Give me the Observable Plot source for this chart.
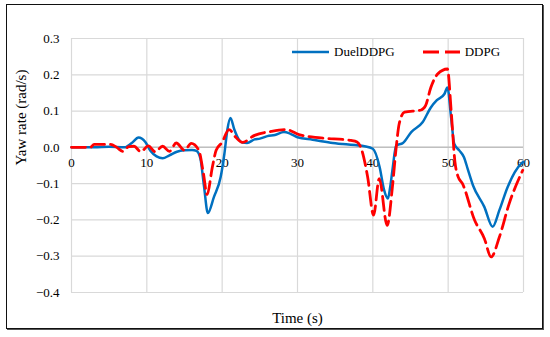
<!DOCTYPE html>
<html>
<head>
<meta charset="utf-8">
<script src="https://cdn.jsdelivr.net/npm/d3@7"></script>
<script src="https://cdn.jsdelivr.net/npm/@observablehq/plot@0.6"></script>
<style>
  body { margin: 0; background: #fff; font-family: "Liberation Serif", serif; }
  #wrap { position: relative; width: 550px; height: 337px; }
  #chart svg text { font-family: "Liberation Serif", serif; }
  #border { position: absolute; left: 6px; top: 4px; width: 535px; height: 323px; border: 1.5px solid #111; box-shadow: 1px 1px 0 #555; pointer-events: none; }
  #legend { position: absolute; top: 44px; left: 290px; font-size: 13px; color: #000; display: flex; align-items: center; }
  #legend .item { display: flex; align-items: center; }
  #legend svg { display: block; }
</style>
</head>
<body>
<div id="wrap">
  <div id="chart"></div>
  <div id="border"></div>
  <div id="legend"></div>
</div>
<script>
// Series names
const seriesNames = ["DuelDDPG", "DDPG"];
const seriesColors = ["#0070C0", "#FF0000"];

// DuelDDPG (blue)
const tDuel = [0, 3, 5, 7, 8, 8.9, 9.8, 10.5, 11.3, 12.1, 13, 14, 15, 16, 16.6, 17.1, 17.6, 18.1, 18.9, 19.8, 20.3, 20.7, 21.1, 21.6, 22.2, 22.7, 23.3, 24.3, 25, 26, 27, 28.2, 29, 30, 32, 34.4, 36, 38.9, 40, 40.9, 41.5, 42.0, 42.3, 42.6, 43.1, 44.0, 45.1, 46.6, 47.7, 48.5, 49.5, 49.9, 50.4, 50.8, 51.5, 52.1, 52.6, 53.3, 54.8, 55.9, 56.8, 57.9, 59.7, 60];
const vDuel = [0, 0, 0.002, 0, 0.012, 0.027, 0.015, -0.01, -0.025, -0.03, -0.022, -0.012, -0.008, -0.007, -0.01, -0.03, -0.109, -0.181, -0.137, -0.082, -0.017, 0.05, 0.081, 0.05, 0.022, 0.013, 0.012, 0.022, 0.024, 0.031, 0.034, 0.042, 0.038, 0.028, 0.021, 0.013, 0.009, 0.003, -0.004, -0.054, -0.118, -0.141, -0.11, -0.063, 0.005, 0.012, 0.042, 0.069, 0.11, 0.13, 0.147, 0.165, 0.08, 0.01, -0.009, -0.027, -0.06, -0.105, -0.164, -0.219, -0.173, -0.109, -0.045, -0.04];

// DDPG (red, dashed)
const tDdpg = [0, 2.5, 3, 5.2, 6.0, 6.8, 7.6, 8.3, 9.2, 10.2, 11.1, 12.1, 13.0, 13.9, 15.0, 15.9, 16.9, 17.5, 18.0, 18.7, 19.2, 20.0, 20.9, 21.8, 22.7, 24.3, 26.5, 28.5, 30.2, 33.1, 37.1, 37.9, 38.4, 39.3, 40.1, 40.85, 41.9, 42.6, 43.1, 43.5, 44.2, 46.4, 47.0, 47.7, 48.6, 49.9, 50.4, 50.9, 51.3, 51.9, 53.5, 54.8, 55.7, 56.8, 58.1, 59.9];
const vDdpg = [0, 0, 0.008, 0.008, 0.0, -0.011, 0.002, 0.003, -0.012, 0.004, -0.012, 0.003, -0.011, 0.012, -0.008, 0.011, -0.008, -0.07, -0.13, -0.054, -0.008, 0.014, 0.049, 0.028, 0.014, 0.033, 0.044, 0.049, 0.035, 0.026, 0.019, 0.015, 0.0, -0.08, -0.187, -0.086, -0.215, -0.109, 0.0, 0.065, 0.097, 0.103, 0.115, 0.165, 0.202, 0.216, 0.1, -0.04, -0.08, -0.1, -0.2, -0.251, -0.302, -0.247, -0.155, -0.063];

// Tick values
const xTicks = [0, 10, 20, 30, 40, 50, 60];
const yTicks = [0.3, 0.2, 0.1, 0.0, -0.1, -0.2, -0.3, -0.4];

const duel = tDuel.map((t, i) => ({t, v: vDuel[i]}));
const ddpg = tDdpg.map((t, i) => ({t, v: vDdpg[i]}));

const font = "Liberation Serif";
const chart = Plot.plot({
  width: 550,
  height: 337,
  marginLeft: 71,
  marginRight: 27,
  marginTop: 38,
  marginBottom: 45,
  style: { fontFamily: font, fontSize: "13px", background: "transparent", color: "#000" },
  x: { domain: [0, 60], ticks: xTicks },
  y: { domain: [-0.4, 0.3], ticks: yTicks },
  marks: [
    Plot.gridX(xTicks, { stroke: "#d9d9d9", strokeOpacity: 1, strokeWidth: 1.2 }),
    Plot.gridY(yTicks, { stroke: "#d9d9d9", strokeOpacity: 1, strokeWidth: 1.2 }),
    Plot.ruleY([0], { stroke: "#bfbfbf", strokeWidth: 1.5 }),
    Plot.axisY(yTicks, { tickSize: 0, tickPadding: 12, tickFormat: d3.format(".1f"), fontSize: 13, fontFamily: font, label: null }),
    Plot.text(xTicks, { x: d => d, y: 0, dy: 15, text: d => String(d), fontSize: 13, fontFamily: font, fill: "#000" }),
    Plot.axisX({ ticks: [], tickSize: 0, label: null }),
    Plot.line(duel, { x: "t", y: "v", stroke: seriesColors[0], strokeWidth: 2.5, curve: "monotone-x" }),
    Plot.line(ddpg, { x: "t", y: "v", stroke: seriesColors[1], strokeWidth: 2.8, strokeDasharray: "14,6", curve: "monotone-x" }),
    Plot.text(["Time (s)"], { frameAnchor: "bottom", dy: 30, fontSize: 15, fontFamily: font, fill: "#000" }),
    Plot.text(["Yaw rate (rad/s)"], { frameAnchor: "left", dx: -50, rotate: -90, fontSize: 15, fontFamily: font, fill: "#000" })
  ]
});
document.getElementById("chart").appendChild(chart);

// Legend
const legend = document.getElementById("legend");
seriesNames.forEach((name, i) => {
  const item = document.createElement("div");
  item.className = "item";
  item.style.marginRight = i === 0 ? "26px" : "0";
  const ns = "http://www.w3.org/2000/svg";
  const sw = document.createElementNS(ns, "svg");
  sw.setAttribute("width", "40");
  sw.setAttribute("height", "10");
  const ln = document.createElementNS(ns, "line");
  ln.setAttribute("x1", "2"); ln.setAttribute("x2", "39");
  ln.setAttribute("y1", "5"); ln.setAttribute("y2", "5");
  ln.setAttribute("stroke", seriesColors[i]);
  ln.setAttribute("stroke-width", i === 0 ? "2.5" : "2.8");
  if (i === 1) ln.setAttribute("stroke-dasharray", "16,6");
  sw.appendChild(ln);
  const lab = document.createElement("span");
  lab.textContent = name;
  lab.style.marginLeft = "4px";
  item.appendChild(sw);
  item.appendChild(lab);
  legend.appendChild(item);
});
</script>
</body>
</html>
